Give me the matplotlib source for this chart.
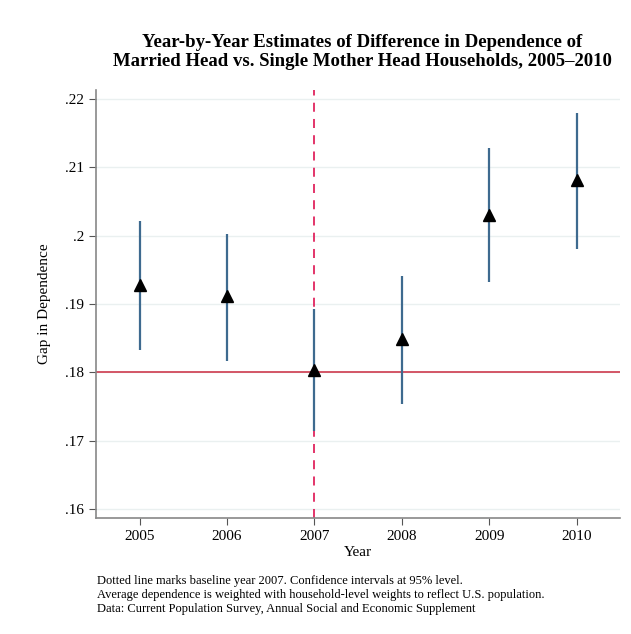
import matplotlib.pyplot as plt
import numpy as np

# Year-by-year gap estimates with 95% CIs
years = [2005, 2006, 2007, 2008, 2009, 2010]
gap = [0.1928, 0.1911, 0.1803, 0.1849, 0.2031, 0.2081]
ci_low = [0.1833, 0.1816, 0.1714, 0.1754, 0.1932, 0.1981]
ci_high = [0.2021, 0.2003, 0.1893, 0.1941, 0.2128, 0.2180]
baseline_year = 2007
baseline_gap = 0.18
yticks = [0.16, 0.17, 0.18, 0.19, 0.20, 0.21, 0.22]
ytick_labels = [".16", ".17", ".18", ".19", ".2", ".21", ".22"]

plt.rcParams['font.family'] = ['Liberation Serif', 'DejaVu Serif']

fig = plt.figure(figsize=(6.31, 6.34), dpi=100)
ax = fig.add_axes([0.152, 0.183, 0.831, 0.675])

for t in yticks:
    ax.axhline(t, color="#eaf0f0", lw=1.0, zorder=0)

ax.axvline(baseline_year, color="#e0245e", lw=1.3, ls=(0, (5, 4)), zorder=1)
ax.axhline(baseline_gap, color="#d1495b", lw=1.3, zorder=1)

ax.vlines(years, ci_low, ci_high, color="#3e6a8f", lw=1.6, zorder=2)
ax.plot(years, gap, "^", color="black", ms=8.5, zorder=3)

ax.set_xlim(2004.5, 2010.5)
ax.set_ylim(0.15868, 0.22132)
ax.set_xticks(years)
ax.set_xticklabels([str(y) for y in years])
ax.set_yticks(yticks)
ax.set_yticklabels(ytick_labels)
ax.tick_params(labelsize=11, color="#555555", length=5, width=0.8)
for side in ("top", "right"):
    ax.spines[side].set_visible(False)
for side in ("left", "bottom"):
    ax.spines[side].set_color("#888888")
    ax.spines[side].set_linewidth(1.2)

ax.set_xlabel("Year", fontsize=11, labelpad=2)
ax.set_ylabel("Gap in Dependence", fontsize=11, labelpad=10)

fig.text(0.574, 0.918, "Year-by-Year Estimates of Difference in Dependence of\n"
         "Married Head vs. Single Mother Head Households, 2005\u20132010",
         ha="center", va="center", fontsize=13.5, fontweight="bold", linespacing=1.12)

fig.text(0.154, 0.062, "Dotted line marks baseline year 2007. Confidence intervals at 95% level.\n"
         "Average dependence is weighted with household-level weights to reflect U.S. population.\n"
         "Data: Current Population Survey, Annual Social and Economic Supplement",
         ha="left", va="center", fontsize=9, linespacing=1.22)

fig.savefig("out.png", dpi=100)
